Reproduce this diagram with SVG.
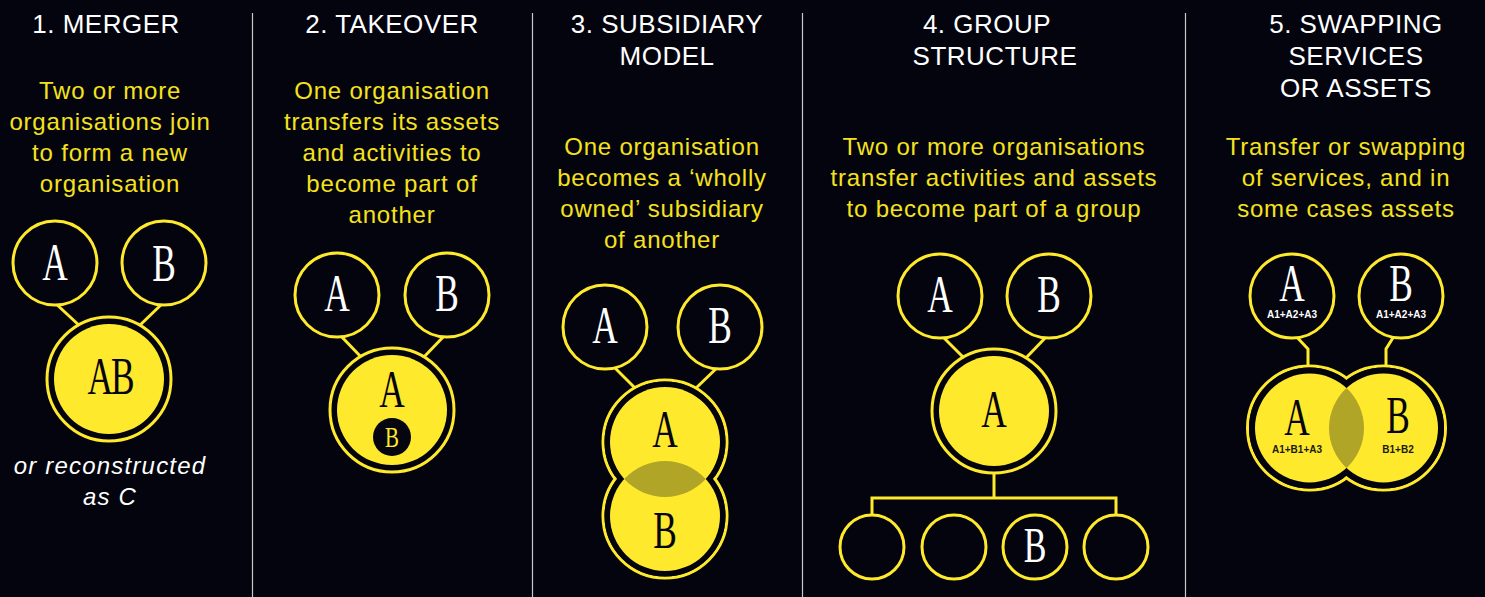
<svg xmlns="http://www.w3.org/2000/svg" width="1485" height="597" viewBox="0 0 1485 597">
  <defs>
    <style>
      .hd { font-family: "Liberation Sans", Arial, sans-serif; font-size: 26px; fill: #ffffff; text-anchor: middle; letter-spacing: 0.5px; }
      .ds { font-family: "Liberation Sans", Arial, sans-serif; font-size: 24px; fill: #f6e21c; text-anchor: middle; letter-spacing: 0.8px; }
      .it { font-family: "Liberation Sans", Arial, sans-serif; font-size: 24px; fill: #ffffff; text-anchor: middle; font-style: italic; letter-spacing: 1.2px; }
      .lt { font-family: "Liberation Serif", "Times New Roman", serif; font-size: 52px; text-anchor: middle; fill: #ffffff; }
      .dk { fill: #05060f; }
      .sm { font-family: "Liberation Sans", Arial, sans-serif; font-size: 10px; font-weight: bold; text-anchor: middle; fill: #ffffff; }
      .smd { font-family: "Liberation Sans", Arial, sans-serif; font-size: 10px; font-weight: bold; text-anchor: middle; fill: #1a1a10; }
      .ring { fill: #03040e; stroke: #ffe92c; stroke-width: 3; }
      .gap { fill: #03040e; }
      .core { fill: #ffe92c; }
      .lens { fill: #b0a526; }
      .con { fill: none; stroke: #ffe92c; stroke-width: 3; }
      .div { stroke: #c9c9c9; stroke-width: 1.2; }
    </style>
  </defs>

  <rect width="1485" height="597" fill="#03040e"/>

  <!-- column dividers -->
  <g id="dividers">
    <line class="div" x1="252.5" y1="13" x2="252.5" y2="597"/>
    <line class="div" x1="532.5" y1="13" x2="532.5" y2="597"/>
    <line class="div" x1="802.5" y1="13" x2="802.5" y2="597"/>
    <line class="div" x1="1185.5" y1="13" x2="1185.5" y2="597"/>
  </g>

  <!-- headings and descriptions -->
  <g id="texts">
    <text class="hd" x="106" y="33">1. MERGER</text>
    <text class="ds" x="110" y="99">Two or more</text>
    <text class="ds" x="110" y="130">organisations join</text>
    <text class="ds" x="110" y="161">to form a new</text>
    <text class="ds" x="110" y="192">organisation</text>
    <text class="it" x="110" y="474">or reconstructed</text>
    <text class="it" x="110" y="505">as C</text>

    <text class="hd" x="392" y="33">2. TAKEOVER</text>
    <text class="ds" x="392" y="99">One organisation</text>
    <text class="ds" x="392" y="130">transfers its assets</text>
    <text class="ds" x="392" y="161">and activities to</text>
    <text class="ds" x="392" y="192">become part of</text>
    <text class="ds" x="392" y="223">another</text>

    <text class="hd" x="667" y="33">3. SUBSIDIARY</text>
    <text class="hd" x="667" y="65">MODEL</text>
    <text class="ds" x="662" y="155">One organisation</text>
    <text class="ds" x="662" y="186">becomes a ‘wholly</text>
    <text class="ds" x="662" y="217">owned’ subsidiary</text>
    <text class="ds" x="662" y="248">of another</text>

    <text class="hd" x="987" y="33">4. GROUP</text>
    <text class="hd" x="995" y="65">STRUCTURE</text>
    <text class="ds" x="994" y="155">Two or more organisations</text>
    <text class="ds" x="994" y="186">transfer activities and assets</text>
    <text class="ds" x="994" y="217">to become part of a group</text>

    <text class="hd" x="1356" y="33">5. SWAPPING</text>
    <text class="hd" x="1356" y="65">SERVICES</text>
    <text class="hd" x="1356" y="97">OR ASSETS</text>
    <text class="ds" x="1346" y="155">Transfer or swapping</text>
    <text class="ds" x="1346" y="186">of services, and in</text>
    <text class="ds" x="1346" y="217">some cases assets</text>
  </g>

  <!-- connectors (drawn under the circles) -->
  <g id="connectors">
    <line class="con" x1="54" y1="302" x2="82" y2="328"/>
    <line class="con" x1="164" y1="302" x2="137" y2="328"/>
    <line class="con" x1="338" y1="333" x2="364" y2="360"/>
    <line class="con" x1="447" y1="333" x2="421" y2="360"/>
    <line class="con" x1="611" y1="364" x2="637" y2="390"/>
    <line class="con" x1="721" y1="364" x2="694" y2="390"/>
    <line class="con" x1="940" y1="334" x2="967" y2="361"/>
    <line class="con" x1="1049" y1="334" x2="1023" y2="361"/>
    <polyline class="con" points="1293,333 1308,349 1308,368"/>
    <polyline class="con" points="1396,333 1386,349 1386,368"/>
    <polyline class="con" points="994,474 994,498"/>
    <polyline class="con" points="872,516 872,498 1116,498 1116,516"/>
  </g>

  <!-- 1. merger -->
  <g id="m-a">
    <circle class="ring" cx="55" cy="263" r="42"/>
    <text class="lt" transform="translate(55,280) scale(0.68,1)">A</text>
  </g>
  <g id="m-b">
    <circle class="ring" cx="164" cy="263" r="42"/>
    <text class="lt" transform="translate(164,281) scale(0.68,1)">B</text>
  </g>
  <g id="m-ab">
    <circle class="ring" cx="109" cy="379" r="62"/>
    <circle class="core" cx="109" cy="379" r="55"/>
    <text class="lt dk" transform="translate(110,394) scale(0.68,1)" letter-spacing="-3">AB</text>
  </g>

  <!-- 2. takeover -->
  <g id="t-a">
    <circle class="ring" cx="337" cy="295" r="42"/>
    <text class="lt" transform="translate(337,311) scale(0.68,1)">A</text>
  </g>
  <g id="t-b">
    <circle class="ring" cx="447" cy="295" r="42"/>
    <text class="lt" transform="translate(447,311) scale(0.68,1)">B</text>
  </g>
  <g id="t-ab">
    <circle class="ring" cx="392" cy="410" r="62"/>
    <circle class="core" cx="392" cy="410" r="55"/>
    <text class="lt dk" transform="translate(392,407) scale(0.68,1)">A</text>
    <circle cx="392" cy="437" r="19" fill="#05060f"/>
    <text class="lt" transform="translate(392,447) scale(0.72,1)" style="font-size:29px;fill:#ffe92c">B</text>
  </g>

  <!-- 3. subsidiary model -->
  <g id="s-a">
    <circle class="ring" cx="605" cy="327" r="42"/>
    <text class="lt" transform="translate(605,343) scale(0.68,1)">A</text>
  </g>
  <g id="s-b">
    <circle class="ring" cx="720" cy="327" r="42"/>
    <text class="lt" transform="translate(720,343) scale(0.68,1)">B</text>
  </g>
  <g id="s-ab">
    <circle class="ring" cx="665" cy="442" r="62"/>
    <circle class="ring" cx="665" cy="516" r="62"/>
    <circle class="gap" cx="665" cy="442" r="60.5"/>
    <circle class="gap" cx="665" cy="516" r="60.5"/>
    <circle class="core" cx="665" cy="442" r="55"/>
    <circle class="core" cx="665" cy="516" r="55"/>
    <path class="lens" d="M624.3 479 A55 55 0 0 1 705.7 479 A55 55 0 0 1 624.3 479 Z"/>
    <text class="lt dk" transform="translate(665,447) scale(0.68,1)">A</text>
    <text class="lt dk" transform="translate(665,548) scale(0.68,1)">B</text>
  </g>

  <!-- 4. group structure -->
  <g id="g-a">
    <circle class="ring" cx="940" cy="296" r="42"/>
    <text class="lt" transform="translate(940,312) scale(0.68,1)">A</text>
  </g>
  <g id="g-b">
    <circle class="ring" cx="1049" cy="296" r="42"/>
    <text class="lt" transform="translate(1049,312) scale(0.68,1)">B</text>
  </g>
  <g id="g-parent">
    <circle class="ring" cx="994" cy="411" r="62"/>
    <circle class="core" cx="994" cy="411" r="55"/>
    <text class="lt dk" transform="translate(994,427) scale(0.68,1)">A</text>
  </g>
  <g id="g-c1"><circle class="ring" cx="872" cy="547" r="32"/></g>
  <g id="g-c2"><circle class="ring" cx="954" cy="547" r="32"/></g>
  <g id="g-c3">
    <circle class="ring" cx="1035" cy="547" r="32"/>
    <text class="lt" transform="translate(1035,562) scale(0.68,1)" style="font-size:50px">B</text>
  </g>
  <g id="g-c4"><circle class="ring" cx="1116" cy="547" r="32"/></g>

  <!-- 5. swapping services or assets -->
  <g id="w-a">
    <circle class="ring" cx="1292" cy="296" r="42"/>
    <text class="lt" transform="translate(1292,301) scale(0.68,1)">A</text>
    <text class="sm" x="1292" y="318">A1+A2+A3</text>
  </g>
  <g id="w-b">
    <circle class="ring" cx="1401" cy="296" r="42"/>
    <text class="lt" transform="translate(1401,301) scale(0.68,1)">B</text>
    <text class="sm" x="1401" y="318">A1+A2+A3</text>
  </g>
  <g id="w-ab">
    <circle class="ring" cx="1309.5" cy="428" r="62"/>
    <circle class="ring" cx="1383.5" cy="428" r="62"/>
    <circle class="gap" cx="1309.5" cy="428" r="60.5"/>
    <circle class="gap" cx="1383.5" cy="428" r="60.5"/>
    <circle class="core" cx="1309.5" cy="428" r="54.5"/>
    <circle class="core" cx="1383.5" cy="428" r="54.5"/>
    <path class="lens" d="M1346.5 388 A54.5 54.5 0 0 1 1346.5 468 A54.5 54.5 0 0 1 1346.5 388 Z"/>
    <text class="lt dk" transform="translate(1297,435) scale(0.68,1)">A</text>
    <text class="smd" x="1297" y="453">A1+B1+A3</text>
    <text class="lt dk" transform="translate(1398,433) scale(0.68,1)">B</text>
    <text class="smd" x="1398" y="453">B1+B2</text>
  </g>
</svg>
